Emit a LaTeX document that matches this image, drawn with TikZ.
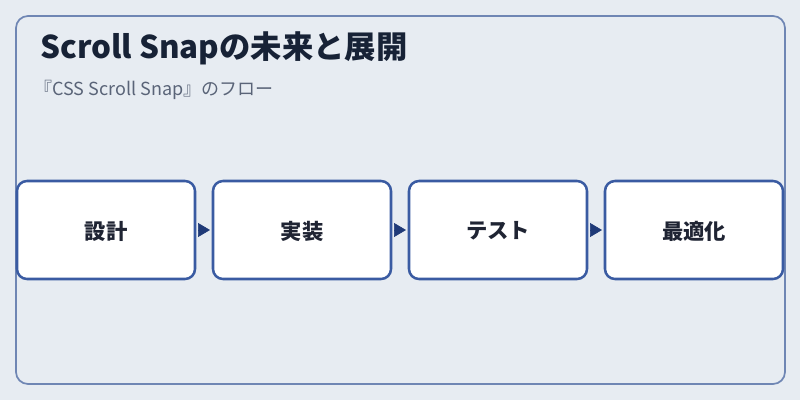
\documentclass[tikz,border=0pt]{standalone}
\usepackage{fontspec}
\setmainfont{Noto Sans CJK JP}
\usetikzlibrary{positioning,arrows.meta}
\definecolor{bgcol}{HTML}{E7ECF2}
\definecolor{framecol}{HTML}{6F86B4}
\definecolor{boxcol}{HTML}{3A5BA2}
\definecolor{arrcol}{HTML}{1F3A78}
\definecolor{titlecol}{HTML}{172236}
\definecolor{subcol}{HTML}{5A6478}
\definecolor{labcol}{HTML}{1F2433}
\begin{document}
\begin{tikzpicture}[x=0.75pt,y=-0.75pt,
  stepbox/.style={draw=boxcol, line width=1.9pt, fill=white, rounded corners=7.5pt,
    minimum width=133.5pt, minimum height=73.5pt, inner sep=0pt, outer sep=0pt,
    text depth=0pt, text=labcol, font=\fontsize{16}{18}\selectfont\bfseries},
  flow/.style={arrcol, line width=0.5pt, shorten <=2.25pt, shorten >=2.25pt,
    -{Triangle[length=9pt,width=10.5pt]}}]
\useasboundingbox[fill=bgcol] (0,0) rectangle (800,400);
\draw[framecol, line width=1.3pt, rounded corners=9pt] (16,16) rectangle (785,384);
\node[anchor=base west, text=titlecol, font=\fontsize{23.5}{26}\selectfont\bfseries, inner sep=0pt] (title) at (40,58) {Scroll Snapの未来と展開};
\node[anchor=base west, text=subcol, font=\fontsize{13.5}{16}\selectfont, inner sep=0pt] (sub) at (34,95) {『CSS Scroll Snap』のフロー};
% steps
\node[stepbox] (design) at (106,230) {設計};
\node[stepbox, right=13.5pt of design] (impl) {実装};
\node[stepbox, right=13.5pt of impl] (test) {テスト};
\node[stepbox, right=13.5pt of test] (opt) {最適化};
\draw[flow] (design) -- (impl);
\draw[flow] (impl) -- (test);
\draw[flow] (test) -- (opt);
\end{tikzpicture}
\end{document}
